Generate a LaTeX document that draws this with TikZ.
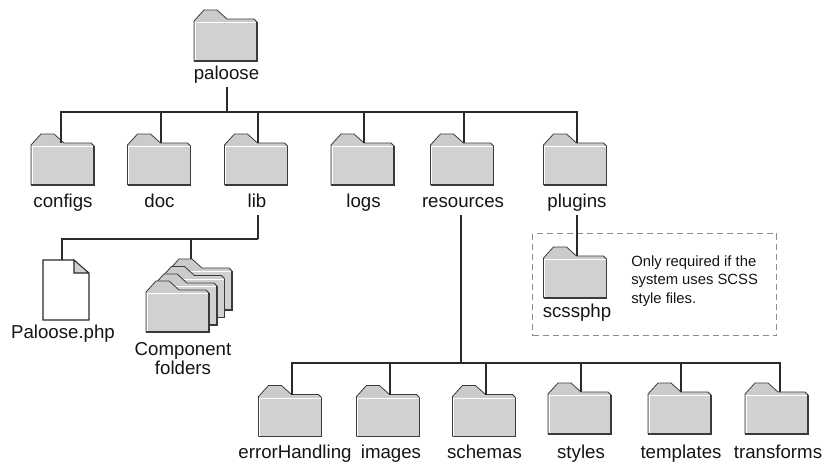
\documentclass[tikz,border=0pt]{standalone}
\usepackage{fontspec}
\setmainfont{Liberation Sans}
\definecolor{fbody}{HTML}{CFD1D3}
\definecolor{ftab}{HTML}{C9CBCD}
\definecolor{fline}{HTML}{3A3A3C}
\definecolor{wire}{HTML}{2A2A2C}
\definecolor{boxdash}{HTML}{8C8C8E}
\tikzset{
  wireline/.style={draw=wire,line width=1.5pt,line cap=butt},
  lbl/.style={font=\fontsize{14}{12}\selectfont,anchor=base,inner sep=0pt,text=black!92},
  note/.style={font=\fontsize{11.1}{13.8}\selectfont,anchor=base west,inner sep=0pt,text=black!92},
  folderframe/.style={inner sep=0pt,minimum width=47.25pt,minimum height=38.25pt,anchor=north west}
}
% x, y of the top-left corner (pixels)
\newcommand{\folderart}[2]{%
  \begin{scope}[shift={(#1,#2)}]
    \fill[fbody] (0,11)--(10,0)--(23,0)--(33,9)--(60,9)--(63,12)--(63,51)--(0,51)--cycle;
    \fill[ftab] (1,11)--(10,1)--(23,1)--(33,10)--(60,10)--(62,12)--(1,12)--cycle;
    \draw[white,line width=.6pt] (1.2,50)--(1.2,12.5)--(62,12.5);
    \draw[fline,line width=.6pt,line join=round] (0,51)--(0,11)--(10,0)--(23,0)--(33,9)--(60,9)--(63,12);
    \draw[fline,line width=1.4pt,line join=miter] (63,12)--(63,51)--(0,51);
  \end{scope}}
\newcommand{\folder}[3]{%
  \folderart{#2}{#3}%
  \node[folderframe] (#1) at (#2,#3) {};
  \coordinate (#1-n) at (#2+33,#3+9);}
\begin{document}
\begin{tikzpicture}[x=.75pt,y=-.75pt]
\useasboundingbox (0,0) rectangle (824,461);
% dashed box
\node[draw=boxdash,dash pattern=on 4.5pt off 3pt,line width=.9pt,inner sep=0pt,minimum width=183pt,minimum height=76.5pt,anchor=north west] (optbox) at (532,233) {};
% folders
\folder{paloose}{194}{10}
\folder{configs}{31}{134}
\folder{doc}{127.5}{134}
\folder{lib}{224.5}{134}
\folder{logs}{331}{134}
\folder{resources}{430.5}{134}
\folder{plugins}{543.5}{134}
\folder{scssphp}{543.5}{247}
\folder{errorHandling}{258.5}{385.5}
\folder{images}{356.5}{385.5}
\folder{schemas}{452.5}{385.5}
\folder{styles}{548}{383}
\folder{templates}{648}{383}
\folder{transforms}{745}{383}
\coordinate (configs-n) at (61,143);
\coordinate (transforms-n) at (780,392);
% component folders stack
\folderart{169}{259}
\folderart{161.5}{266.5}
\folderart{154}{274}
\folder{component}{146}{281}
\coordinate (component-n) at (191,259);
% file
\fill[white] (43,260)--(74,260)--(89,273)--(89,320)--(43,320)--cycle;
\fill[fbody] (74,260)--(89,273)--(74,273)--cycle;
\draw[wire,line width=.8pt,line join=miter] (74,260)--(43,260)--(43,320)--(89,320)--(89,273)--(74,260)--(74,273)--(89,273);
\node[inner sep=0pt,minimum width=34.5pt,minimum height=45pt,anchor=north west] (phpfile) at (43,260) {};
\coordinate (phpfile-n) at (62,260);
% labels
\node[lbl] (lpaloose) at (226.5,79) {paloose};
\node[lbl] (lconfigs) at (63,207) {configs};
\node[lbl] (ldoc) at (159.5,207) {doc};
\node[lbl] (llib) at (257,207) {lib};
\node[lbl] (llogs) at (363.5,207) {logs};
\node[lbl] (lresources) at (463,207) {resources};
\node[lbl] (lplugins) at (577,207) {plugins};
\node[lbl] (lscssphp) at (577,317) {scssphp};
\node[lbl] (lphp) at (63,338) {Paloose.php};
\node[lbl,align=center,anchor=center] (lcomp) at (183,358.5) {Component\\folders};
\node[lbl] (lerror) at (295,458) {errorHandling};
\node[lbl] (limages) at (391,458) {images};
\node[lbl] (lschemas) at (484.5,458) {schemas};
\node[lbl] (lstyles) at (581,458) {styles};
\node[lbl] (ltemplates) at (681,458) {templates};
\node[lbl] (ltransforms) at (778,458) {transforms};
\node[note] (n1) at (631,266) {Only required if the};
\node[note] (n2) at (631,284.5) {system uses SCSS};
\node[note] (n3) at (631,303) {style files.};
% connector hubs
\coordinate (rootstem) at (226.5,87);
\coordinate (bus1) at (226.5,111.5);
\coordinate (libstem) at (257.5,215);
\coordinate (libbus) at (257.5,239);
\coordinate (resstem) at (460.5,215);
\coordinate (resbus) at (460.5,363);
\coordinate (plugstem) at (576.5,215);
\path[wireline] (rootstem) -- (bus1);
\path[wireline] (configs-n) |- (bus1);
\path[wireline] (bus1) -| (plugins-n);
\path[wireline] (doc-n) -- (doc-n |- bus1);
\path[wireline] (lib-n) -- (lib-n |- bus1);
\path[wireline] (logs-n) -- (logs-n |- bus1);
\path[wireline] (resources-n) -- (resources-n |- bus1);
\path[wireline] (libstem) -- (libbus);
\path[wireline] (phpfile-n) |- (libbus);
\path[wireline] (component-n) -- (component-n |- libbus);
\path[wireline] (plugstem) -- (scssphp-n);
\path[wireline] (resstem) -- (resbus);
\path[wireline] (errorHandling-n) |- (resbus);
\path[wireline] (resbus) -| (transforms-n);
\path[wireline] (images-n) -- (images-n |- resbus);
\path[wireline] (schemas-n) -- (schemas-n |- resbus);
\path[wireline] (styles-n) -- (styles-n |- resbus);
\path[wireline] (templates-n) -- (templates-n |- resbus);
\end{tikzpicture}
\end{document}
